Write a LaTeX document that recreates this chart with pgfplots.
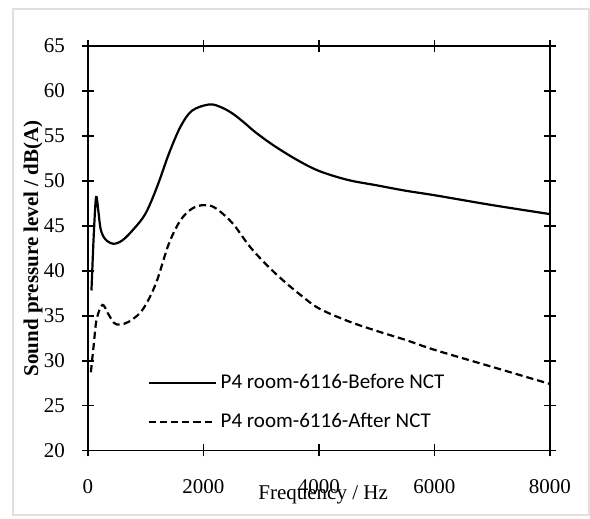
\documentclass[border=0pt]{standalone}
\usepackage{fontspec}
\setmainfont{Liberation Serif}
\newfontfamily\legfont{Carlito}
\usepackage{pgfplots}
\pgfplotsset{compat=1.18}

\pgfplotstableread{
f L
60 37.8
100 44.0
140 48.2
180 46.6
220 44.6
300 43.5
440 43.0
600 43.4
800 44.7
1000 46.4
1200 49.4
1400 53.0
1600 56.0
1800 57.8
2100 58.5
2300 58.2
2500 57.5
2700 56.5
2900 55.4
3200 54.0
3600 52.4
4000 51.1
4500 50.1
5000 49.5
5500 48.9
6000 48.4
7000 47.3
8000 46.3
}\before

\pgfplotstableread{
f L
50 28.7
100 31.8
150 34.6
250 36.2
350 35.2
450 34.2
550 34.0
700 34.3
900 35.3
1050 36.8
1200 39.0
1400 43.0
1600 45.6
1800 46.9
2000 47.3
2200 47.0
2500 45.3
2800 42.7
3100 40.6
3400 38.8
3700 37.2
4000 35.8
4500 34.4
5000 33.3
5500 32.3
6000 31.2
7000 29.3
8000 27.4
}\after

\begin{document}
\begin{tikzpicture}
\useasboundingbox (-44pt,-34.25pt) rectangle (251pt,225.25pt);
\draw[black!12,line width=1pt] (-37.5pt,-32.5pt) rectangle (250.5pt,220.5pt);
\begin{axis}[
  scale only axis,width=231pt,height=202.25pt,
  xmin=0,xmax=8000,ymin=20,ymax=65,
  xtick={0,2000,...,8000},ytick={20,25,...,65},
  scaled x ticks=false,
  /pgf/number format/assume math mode=true,
  /pgf/number format/set thousands separator={},
  tick label style={font=\fontsize{10.5}{12}\selectfont},
  axis line style={line width=0.9pt},
  tick style={black,line width=0.9pt},
  ytick align=center,xtick align=center,
  major tick length=6pt,
  yticklabel style={xshift=-5pt},
  xticklabel style={yshift=-8pt},
  xlabel={Frequency / Hz},
  xlabel style={font=\fontsize{10.5}{12}\selectfont,at={(axis description cs:0.509,-0.109)},anchor=center},
  ylabel={\bfseries Sound pressure level / dB(A)},
  ylabel style={font=\fontsize{10.5}{12}\selectfont,at={(axis description cs:-0.119,0.5)},anchor=center},
  legend style={draw=none,fill=none,at={(axis description cs:0.128,0.2)},anchor=north west,
    font=\legfont\fontsize{10.5}{12}\selectfont,row sep=7pt,inner sep=0pt},
  legend cell align=left,
  legend image code/.code={\draw[#1] (0pt,0pt) -- (33.5pt,0pt);},
  /tikz/every even column/.append style={column sep=3pt},
]
\addplot[black,line width=1.1pt,smooth,tension=0.55] table[x=f,y=L] {\before};
\addplot[black,line width=1.1pt,dash pattern=on 3.6pt off 2pt,smooth,tension=0.55] table[x=f,y=L] {\after};
\legend{P4 room-6116-Before NCT,P4 room-6116-After NCT}
\end{axis}
\end{tikzpicture}
\end{document}
